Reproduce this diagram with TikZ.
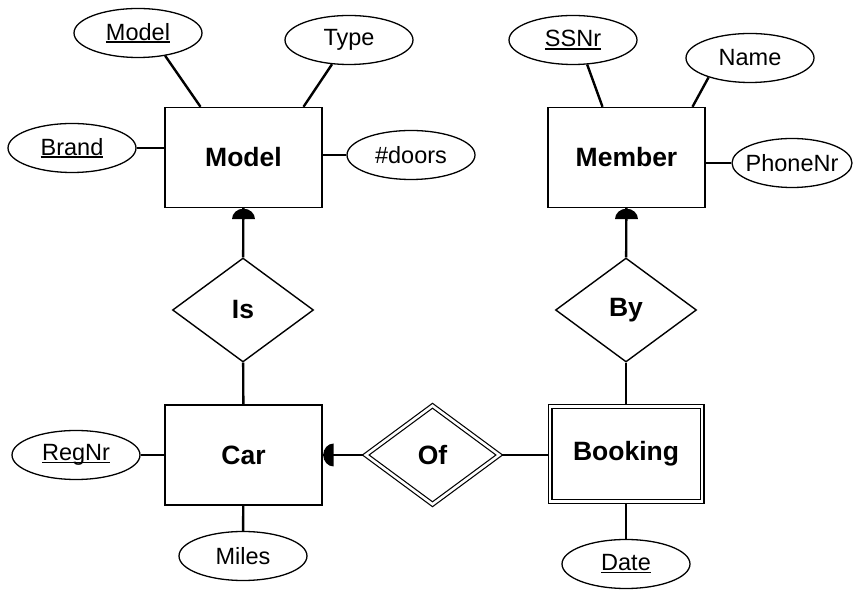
\documentclass[tikz,border=0pt]{standalone}
\usepackage{fontspec}
\setmainfont{Liberation Sans}
\usetikzlibrary{shapes.geometric,backgrounds}

\newcommand{\keyattr}[1]{\setbox0=\hbox{#1}\rlap{\rule[-2.8pt]{\wd0}{1.6pt}}\box0}

\begin{document}
\begin{tikzpicture}[
  x=1pt, y=1pt,
  every node/.style={fill=white, inner sep=0pt},
  entity/.style={draw, line width=1.4pt, minimum width=157pt, minimum height=100pt,
    font=\fontsize{26.5}{30}\selectfont\bfseries},
  weakentity/.style={entity, double, double distance=2.6pt, line width=1.2pt,
    minimum width=152pt, minimum height=95pt},
  relation/.style={draw, diamond, line width=1.4pt, minimum width=141pt, minimum height=104pt,
    font=\fontsize{26.5}{30}\selectfont\bfseries},
  weakrelation/.style={relation, double, double distance=2.6pt, line width=1.2pt,
    minimum width=134pt, minimum height=99pt},
  attribute/.style={draw, ellipse, line width=1.3pt, minimum width=128pt, minimum height=49pt,
    font=\fontsize{23.5}{27}\selectfont},
  link/.style={line width=2.4pt},
  halfdisc/.style={fill=black}]
\useasboundingbox (0,0) rectangle (854,589);

% entities and relationships
\node[entity] (model) at (243.5,431.5) {Model};
\node[entity] (member) at (626.5,431.5) {Member};
\node[entity] (car) at (243.5,134) {Car};
\node[weakentity] (booking) at (626,135) {Booking};
\node[relation] (is) at (243,279) {Is};
\node[relation] (by) at (626,279) {By};
\node[weakrelation] (of) at (432.5,134) {Of};

% attributes
\node[attribute] (modelkey) at (138,556) {\keyattr{Model}};
\node[attribute] (type) at (349,549) {Type};
\node[attribute] (brand) at (72,441) {\keyattr{Brand}};
\node[attribute] (doors) at (411,434) {\#doors};
\node[attribute] (ssnr) at (573,549) {\keyattr{SSNr}};
\node[attribute] (name) at (750,531) {Name};
\node[attribute, inner xsep=-4pt, minimum width=120pt] (phone) at (792,426) {PhoneNr};
\node[attribute] (regnr) at (76,134) {\keyattr{RegNr}};
\node[attribute] (miles) at (243,33) {Miles};
\node[attribute] (date) at (626,25) {\keyattr{Date}};

\begin{scope}[on background layer]
  \draw[link] (modelkey.320) -- ([xshift=-43pt]model.north);
  \draw[link] (type.235) -- ([xshift=60pt]model.north);
  \draw[link] (brand) -- (brand -| model.west);
  \draw[link] (doors) -- (doors -| model.east);
  \draw[link] (ssnr.300) -- ([xshift=-24pt]member.north);
  \draw[link] (name.205) -- ([xshift=66pt]member.north);
  \draw[link] (phone) -- (phone -| member.east);
  \draw[link] (regnr) -- (car);
  \draw[link] (car) -- (miles);
  \draw[link] (booking) -- (date);
  \draw[link] (is) -- (model);
  \draw[link] (is) -- (car);
  \draw[link] (by) -- (member);
  \draw[link] (by) -- (booking);
  \draw[link] (of) -- (car);
  \draw[link] (of) -- (of -| booking.west);
\end{scope}

% total participation marks
\fill[halfdisc] ([yshift=-11pt]model.south) ++(11.5pt,0pt)
  arc[start angle=0, end angle=180, x radius=11.5pt, y radius=10.5pt] -- cycle;
\fill[halfdisc] ([yshift=-11pt]member.south) ++(11.5pt,0pt)
  arc[start angle=0, end angle=180, x radius=11.5pt, y radius=10.5pt] -- cycle;
\fill[halfdisc] ([xshift=11pt]car.east) ++(0pt,-11.5pt)
  arc[start angle=270, end angle=90, x radius=10.5pt, y radius=11.5pt] -- cycle;
\end{tikzpicture}
\end{document}
